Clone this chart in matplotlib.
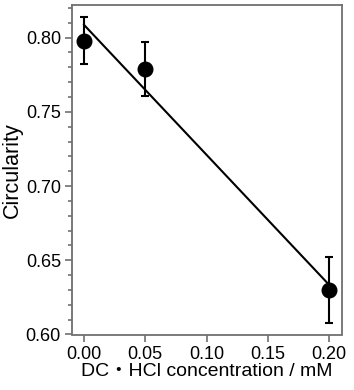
import matplotlib
matplotlib.use("Agg")
import matplotlib.pyplot as plt
import numpy as np
from matplotlib.ticker import MultipleLocator

plt.rcParams['font.family'] = ['Liberation Sans', 'Noto Sans CJK JP', 'DejaVu Sans']

conc = [0.00, 0.05, 0.20]
circularity = [0.798, 0.779, 0.630]
err = [0.016, 0.018, 0.0225]
xticks = [0.00, 0.05, 0.10, 0.15, 0.20]
yticks = [0.60, 0.65, 0.70, 0.75, 0.80]

fig = plt.figure(figsize=(3.54, 3.90), dpi=100)
ax = fig.add_axes([72/354, 1-334.5/390, 270/354, 329.5/390])

slope, intercept = np.polyfit(conc, circularity, 1)
xf = np.array([conc[0], conc[-1]])
ax.plot(xf, slope*xf + intercept, color='black', lw=1.5, zorder=2)
ax.errorbar(conc, circularity, yerr=err, fmt='o', color='black', ms=10.5,
            ecolor='black', elinewidth=1.5, capsize=2.8, capthick=1.5, zorder=3)

ax.set_xlim(-0.0098, 0.2106)
ax.set_ylim(0.60, 0.822)
ax.set_xticks(xticks)
ax.set_xticklabels([f"{v:.2f}" for v in xticks])
ax.set_yticks(yticks)
ax.set_yticklabels([f"{v:.2f}" for v in yticks])
ax.yaxis.set_minor_locator(MultipleLocator(0.01))

spc = '#707070'
for s in ax.spines.values():
    s.set_color(spc)
    s.set_linewidth(1.3)
ax.tick_params(which='both', direction='out', color=spc, width=1.2, labelsize=13, labelcolor='black', pad=3)
ax.tick_params(which='major', length=5)
ax.tick_params(which='minor', length=3)
ax.tick_params(axis='x', which='both', top=False)
ax.tick_params(axis='y', which='both', right=False)

ax.set_xlabel('DC・HCl concentration / mM', fontsize=14, labelpad=0)
ax.set_ylabel('Circularity', fontsize=15.5, labelpad=2)

fig.savefig('out.png', dpi=100)
